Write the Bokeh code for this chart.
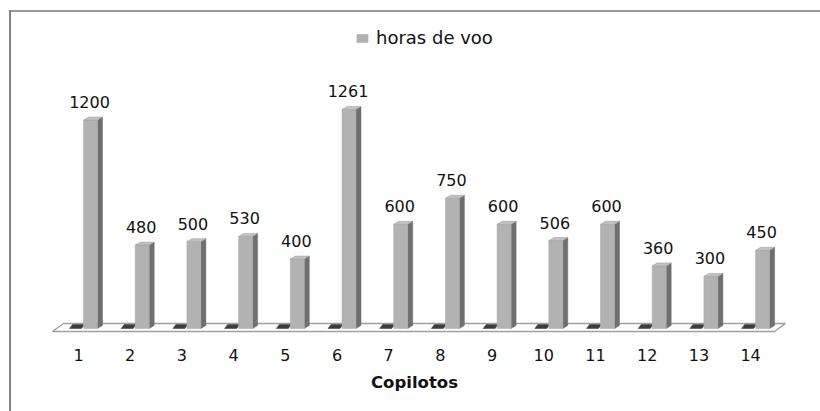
from bokeh.plotting import figure
from bokeh.models import (Range1d, FixedTicker, ColumnDataSource, Legend, LegendItem)
from bokeh.embed import file_html
from bokeh.resources import INLINE
from bokeh.core.properties import value

categories = ["1", "2", "3", "4", "5", "6", "7", "8", "9", "10", "11", "12", "13", "14"]
horas_de_voo = [1200, 480, 500, 530, 400, 1261, 600, 750, 600, 506, 600, 360, 300, 450]
series_name = "horas de voo"
x_title = "Copilotos"

# pixel geometry helpers (scale conversions)
XU = 51.7           # px per category
YPX = 0.1737        # px per unit of value
def dxp(px): return px / XU
def dyp(px): return px / YPX

FRAME_W, FRAME_H = 812, 328
p = figure(frame_width=FRAME_W, frame_height=FRAME_H, output_backend="svg",
           toolbar_location=None, min_border_left=8, min_border_right=0,
           min_border_top=8, min_border_bottom=75)
p.x_range = Range1d(1 - dxp(70), 1 - dxp(70) + dxp(FRAME_W))
p.y_range = Range1d(-dyp(8), dyp(320))
p.outline_line_color = None
p.grid.visible = False
p.yaxis.visible = False
p.border_fill_color = None
p.background_fill_color = None
# chart-area border (left and top edges) painted behind the transparent canvas
p.styles = {
    "background": ("linear-gradient(#858585,#858585) 9px 10px / 2px 420px no-repeat, "
                   "linear-gradient(#9a9a9a,#9a9a9a) 9px 10px / 820px 2px no-repeat, "
                   "#ffffff"),
}

xs = list(range(1, len(categories) + 1))

# floor
fx0, fx1 = 0.497, 14.462
fdx = dxp(11)
fy0, fy1 = -dyp(3), dyp(5)
p.patch([fx0, fx1, fx1 + fdx, fx0 + fdx], [fy0, fy0, fy1, fy1],
        fill_color="white", line_color="#a0a0a0", line_width=1.5)

# hidden (zero) series drawn as dark slabs
ddx, ddy = dxp(3), dyp(4)
dark_xs, dark_ys = [], []
for x in xs:
    l, r = x - dxp(9), x + dxp(3)
    dark_xs.append([l, r, r + ddx, l + ddx])
    dark_ys.append([0, 0, ddy, ddy])
p.patches(dark_xs, dark_ys, fill_color="#3d3d3d", line_color="#3d3d3d", line_width=0.5)

# 3D bars
bdx, bdy = dxp(5), dyp(3)
left = [x + dxp(5) for x in xs]
right = [x + dxp(19) for x in xs]
src = ColumnDataSource(dict(left=left, right=right, top=horas_de_voo,
                            bottom=[0] * len(xs), cat=categories))
side_xs, side_ys, top_xs, top_ys = [], [], [], []
for l, r, v in zip(left, right, horas_de_voo):
    side_xs.append([r, r + bdx, r + bdx, r])
    side_ys.append([0, bdy, v + bdy, v])
    top_xs.append([l, r, r + bdx, l + bdx])
    top_ys.append([v, v, v + bdy, v + bdy])
p.patches(side_xs, side_ys, fill_color="#6f6f6f", line_color="#6f6f6f", line_width=0.5)
bars = p.quad(left="left", right="right", top="top", bottom="bottom", source=src,
              fill_color="#b2b2b2", line_color="#a8a8a8", line_width=0.5)
p.patches(top_xs, top_ys, fill_color="#c2c2c2", line_color="#9a9a9a", line_width=0.5)

# data labels
lab_x = [x + dxp(11) for x in xs]
lab_y = [v + bdy for v in horas_de_voo]
p.text(lab_x, lab_y, text=[str(v) for v in horas_de_voo], text_align="center",
       text_baseline="alphabetic", y_offset=-15, text_font=value("DejaVu Sans"),
       text_font_size="16px", text_color="#111111")

# x axis
ax = p.xaxis[0]
ax.ticker = FixedTicker(ticks=xs)
ax.major_label_overrides = {x: c for x, c in zip(xs, categories)}
ax.axis_line_color = None
ax.major_tick_line_color = None
ax.minor_tick_line_color = None
ax.major_tick_out = 0
ax.major_tick_in = 0
ax.major_label_standoff = 12
ax.major_label_text_font = "DejaVu Sans"
ax.major_label_text_font_size = "16px"
ax.major_label_text_color = "#111111"
ax.axis_label = x_title
ax.axis_label_standoff = 9
ax.axis_label_text_font = "DejaVu Sans"
ax.axis_label_text_font_style = "bold"
ax.axis_label_text_font_size = "16.5px"
ax.axis_label_text_color = "#111111"

# legend
legend = Legend(items=[LegendItem(label=series_name, renderers=[bars])],
                location=(347, FRAME_H - 40), orientation="horizontal",
                padding=0, margin=0, glyph_width=14, glyph_height=10,
                label_standoff=7, border_line_color=None,
                background_fill_alpha=0, label_text_font="DejaVu Sans",
                label_text_font_size="18px", label_text_color="#111111",
                label_height=14)
p.add_layout(legend)

open("out.html", "w").write(file_html(p, INLINE))
